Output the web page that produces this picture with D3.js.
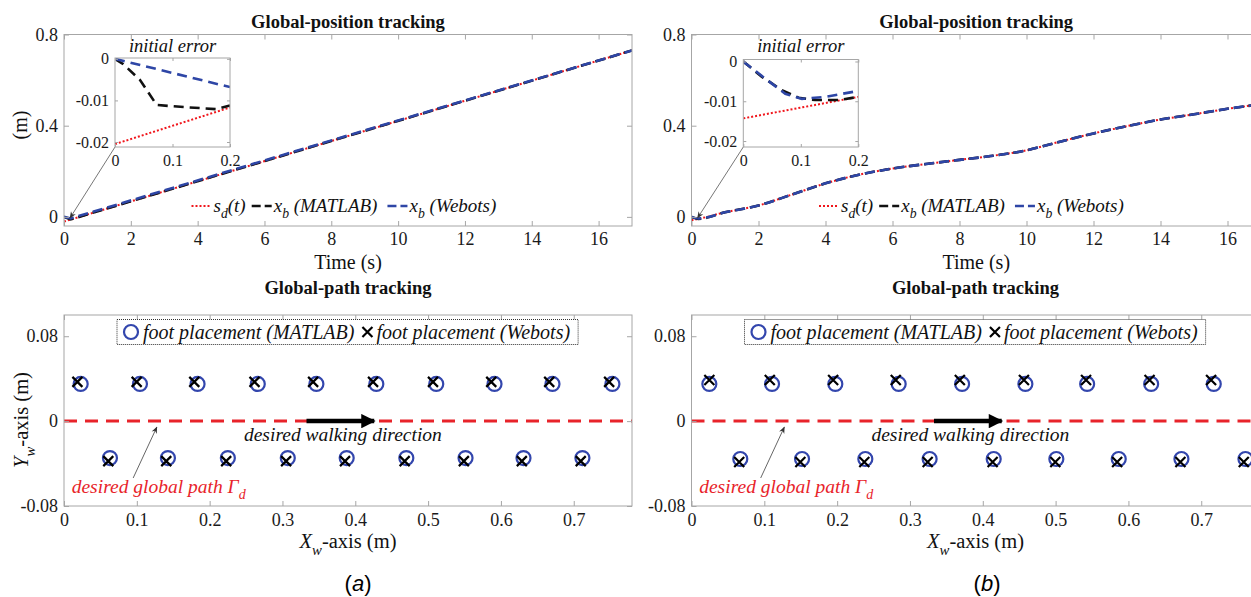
<!DOCTYPE html>
<html><head><meta charset="utf-8">
<script src="https://cdn.jsdelivr.net/npm/d3@7"></script>
<style>body{margin:0;background:#fff} svg{display:block}</style>
</head><body><svg id="c" width="1251" height="597"></svg>
<script>
// ---------------- DATA ----------------
// Top panels: global-position tracking (time s, position m)
const timeTicks = [0, 2, 4, 6, 8, 10, 12, 14, 16];
const posTicks = [0, 0.4, 0.8];
// (a)
const tA = [0, 0.2, 17];
const sdA = [-0.0205, -0.0117, 0.73];
const xbMatlabA = [0, -0.0112, 0.73];
const xbWebotsA = [0, -0.0068, 0.73];
// (b)
const tB = [0, 0.2, 1, 2, 3, 4, 5, 6, 7, 8, 9, 10, 11, 12, 13, 14, 15, 16, 17];
const sdB = [-0.0143, -0.0089, 0.02, 0.05, 0.098, 0.147, 0.185, 0.212, 0.232, 0.25, 0.268, 0.292, 0.33, 0.366, 0.398, 0.427, 0.45, 0.474, 0.494];
const xbMatlabB = [0, -0.0089, 0.02, 0.05, 0.098, 0.147, 0.185, 0.212, 0.232, 0.25, 0.268, 0.292, 0.33, 0.366, 0.398, 0.427, 0.45, 0.474, 0.494];
const xbWebotsB = [0, -0.0074, 0.02, 0.05, 0.098, 0.147, 0.185, 0.212, 0.232, 0.25, 0.268, 0.292, 0.33, 0.366, 0.398, 0.427, 0.45, 0.474, 0.494];

// Insets: initial error
const insetXTicks = [0, 0.1, 0.2];
const insetYTicks = [0, -0.01, -0.02];
const insetTsdA = [0, 0.2];
const insetSdA = [-0.0205, -0.0117];
const insetTblkA = [0, 0.0145, 0.043, 0.0725, 0.12, 0.177, 0.2];
const insetBlkA = [0, -0.0013, -0.005, -0.0111, -0.0116, -0.0121, -0.0112];
const insetTbluA = [0, 0.2];
const insetBluA = [0, -0.0068];

const insetTsdB = [0, 0.2];
const insetSdB = [-0.0143, -0.0089];
const insetTblkB = [0, 0.032, 0.067, 0.096, 0.125, 0.165, 0.2];
const insetBlkB = [0, -0.0038, -0.0072, -0.0091, -0.0097, -0.0097, -0.0089];
const insetTbluB = [0, 0.038, 0.073, 0.102, 0.142, 0.2];
const insetBluB = [0, -0.0043, -0.0081, -0.0094, -0.0089, -0.0074];

// Bottom panels: global-path tracking (Xw m, Yw m)
const xwTicks = [0, 0.1, 0.2, 0.3, 0.4, 0.5, 0.6, 0.7];
const ywTicks = [-0.08, 0, 0.08];
const pathX = [0, 0.78];
const pathY = [0, 0];
// (a)
const matlabUpperXA = [0.0229, 0.1043, 0.1834, 0.2661, 0.3466, 0.4289, 0.5112, 0.5912, 0.6708, 0.7531];
const matlabUpperYA = 0.035;
const matlabLowerXA = [0.0631, 0.1427, 0.2250, 0.3073, 0.3882, 0.4701, 0.5514, 0.6310, 0.7119];
const matlabLowerYA = -0.0348;
const webotsUpperXA = [0.0184, 0.0998, 0.1789, 0.2616, 0.3421, 0.4244, 0.5067, 0.5867, 0.6663, 0.7486];
const webotsUpperYA = 0.037;
const webotsLowerXA = [0.0608, 0.1404, 0.2227, 0.3050, 0.3859, 0.4678, 0.5491, 0.6287, 0.7096];
const webotsLowerYA = -0.0377;
// (b)
const matlabUpperXB = [0.0245, 0.1106, 0.1975, 0.2845, 0.3716, 0.4585, 0.5433, 0.6312, 0.7172];
const matlabUpperYB = 0.035;
const matlabLowerXB = [0.067, 0.1518, 0.2387, 0.327, 0.415, 0.501, 0.5867, 0.6728, 0.7607];
const matlabLowerYB = -0.0357;
const webotsUpperXB = [0.0245, 0.1075, 0.1945, 0.2805, 0.3685, 0.4565, 0.5418, 0.629, 0.7135];
const webotsUpperYB = 0.0387;
const webotsLowerXB = [0.0655, 0.1495, 0.2373, 0.3243, 0.4135, 0.4996, 0.5845, 0.6714, 0.7584];
const webotsLowerYB = -0.0386;

// ---------------- DRAWING ----------------
const SERIF = "'Liberation Serif','Times New Roman',serif";
const SANS = "'Liberation Sans',Arial,sans-serif";
const AXC = "#a6a6a6";
const RED = "#f0161c", BLUE = "#2e46a6", BLK = "#111";
const svg = d3.select("#c");

const defs = svg.append("defs");
defs.append("marker").attr("id","ah").attr("viewBox","0 0 10 10").attr("refX",9).attr("refY",5)
  .attr("markerWidth",7).attr("markerHeight",7).attr("orient","auto-start-reverse")
  .append("path").attr("d","M0,1 L10,5 L0,9 L3,5 z").attr("fill","#333");
defs.append("marker").attr("id","big").attr("viewBox","0 0 10 10").attr("refX",9).attr("refY",5)
  .attr("markerWidth",5).attr("markerHeight",3.2).attr("orient","auto").attr("markerUnits","strokeWidth")
  .append("path").attr("d","M0,0 L10,5 L0,10 z").attr("fill","#000");

function rich(g, x, y, parts, size, anchor, fill) {
  const t = g.append("text").attr("x", x).attr("y", y).attr("font-family", SERIF)
    .attr("font-size", size).attr("text-anchor", anchor || "start").attr("fill", fill || BLK);
  let shift = 0;
  parts.forEach(p => {
    const sp = t.append("tspan").text(p.t);
    if (p.it) sp.attr("font-style", "italic");
    if (p.b) sp.attr("font-weight", "bold");
    const target = p.sub ? size * 0.33 : 0;
    if (target !== shift) { sp.attr("dy", target - shift); shift = target; }
    if (p.sub) sp.attr("font-size", size * 0.72);
  });
  return t;
}

let clipN = 0;
function frame(g, x, y, xt, yt, o) {
  const [xl, xr] = x.range(), [yb, yt0] = y.range();
  const fmt = d => String(d);
  const style = (sel, lab) => {
    sel.select(".domain").remove();
    sel.selectAll(".tick line").attr("stroke", AXC).attr("stroke-width", 1);
    sel.attr("font-family", SERIF).attr("font-size", o.fs);
    sel.selectAll(".tick text").attr("fill", "#1a1a1a");
    if (!lab) sel.selectAll(".tick text").remove();
  };
  g.append("g").attr("transform", `translate(0,${yb})`)
    .call(d3.axisBottom(x).tickValues(xt).tickSizeInner(-o.ts).tickSizeOuter(0).tickPadding(o.px).tickFormat(fmt))
    .call(s => style(s, true));
  g.append("g").attr("transform", `translate(0,${yt0})`)
    .call(d3.axisTop(x).tickValues(xt).tickSizeInner(-o.ts).tickSizeOuter(0).tickFormat(""))
    .call(s => style(s, false));
  g.append("g").attr("transform", `translate(${xl},0)`)
    .call(d3.axisLeft(y).tickValues(yt).tickSizeInner(-o.ts).tickSizeOuter(0).tickPadding(o.py).tickFormat(fmt))
    .call(s => style(s, true));
  g.append("g").attr("transform", `translate(${xr},0)`)
    .call(d3.axisRight(y).tickValues(yt).tickSizeInner(-o.ts).tickSizeOuter(0).tickFormat(""))
    .call(s => style(s, false));
  g.append("rect").attr("x", xl).attr("y", yt0).attr("width", xr - xl).attr("height", yb - yt0)
    .attr("fill", "none").attr("stroke", AXC).attr("stroke-width", 1);
}
function clip(x, y) {
  const id = "cl" + (clipN++);
  const [xl, xr] = x.range(), [yb, yt0] = y.range();
  defs.append("clipPath").attr("id", id).append("rect")
    .attr("x", xl).attr("y", yt0).attr("width", xr - xl).attr("height", yb - yt0);
  return `url(#${id})`;
}
function series(g, x, y, xs, ys, color, width, dash, curve) {
  const line = d3.line().x((d, i) => x(xs[i])).y(d => y(d)).curve(curve || d3.curveLinear);
  g.append("path").datum(ys).attr("d", line).attr("fill", "none").attr("stroke", color)
    .attr("stroke-width", width).attr("stroke-dasharray", dash || null);
}

function topPanel(x0, x1, label, t, sd, xm, xw, inset, curve) {
  const g = svg.append("g");
  const x = d3.scaleLinear().domain([0, 17]).range([x0, x1]);
  const y = d3.scaleLinear().domain([-0.04, 0.8]).range([226, 34.5]);
  g.append("rect").attr("x", x0).attr("y", 34.5).attr("width", x1 - x0).attr("height", 191.5).attr("fill", "#fff");
  const lg = g.append("g").attr("clip-path", clip(x, y));
  series(lg, x, y, t, sd, RED, 2, "2,2", curve);
  series(lg, x, y, t, xm, BLK, 2.6, "10,5", curve);
  series(lg, x, y, t, xw, BLUE, 2.6, "10,5", curve);
  frame(g, x, y, timeTicks, posTicks, { ts: 5, px: 6, py: 6, fs: 18 });
  // title & axis label
  rich(g, (x0 + x1) / 2, 28, [{ t: "Global-position tracking", b: true }], 18.5, "middle");
  rich(g, (x0 + x1) / 2, 269, [{ t: "Time (s)" }], 20, "middle");
  if (label) {
    rich(g.append("g").attr("transform", "translate(27,125) rotate(-90)"), 0, 0, [{ t: "(m)" }], 20, "middle");
  }
  // legend
  let lx = x0 + 127.5;
  const ly = 206;
  const items = [
    { c: RED, w: 2, d: "2,2", parts: [{ t: "s", it: true }, { t: "d", it: true, sub: true }, { t: "(t)", it: true }], gap: 6 },
    { c: BLK, w: 2.6, d: "9,4", parts: [{ t: "x", it: true }, { t: "b", it: true, sub: true }, { t: " (MATLAB)", it: true }], gap: 10 },
    { c: BLUE, w: 2.6, d: "9,4", parts: [{ t: "x", it: true }, { t: "b", it: true, sub: true }, { t: " (Webots)", it: true }], gap: 0 }
  ];
  items.forEach(it => {
    g.append("line").attr("x1", lx).attr("x2", lx + 20).attr("y1", ly).attr("y2", ly)
      .attr("stroke", it.c).attr("stroke-width", it.w).attr("stroke-dasharray", it.d);
    const tx = rich(g, lx + 22, ly + 6, it.parts, 19, "start");
    lx = lx + 22 + tx.node().getComputedTextLength() + it.gap;
  });
  // inset
  const ix = d3.scaleLinear().domain([0, 0.2]).range([inset.x0, inset.x0 + 115]);
  const iy = d3.scaleLinear().domain(inset.yd).range([147, inset.top]);
  // pointer arrow
  g.append("line").attr("x1", ix(0)).attr("y1", 147).attr("x2", x(0.18)).attr("y2", y(-0.005))
    .attr("stroke", "#777").attr("stroke-width", 1).attr("marker-end", "url(#ah)");
  const ig = g.append("g");
  ig.append("rect").attr("x", inset.x0).attr("y", inset.top).attr("width", 115).attr("height", 147 - inset.top).attr("fill", "#fff");
  const ilg = ig.append("g").attr("clip-path", clip(ix, iy));
  series(ilg, ix, iy, inset.tsd, inset.sd, RED, 2, "2,2");
  series(ilg, ix, iy, inset.tblk, inset.blk, BLK, 2.6, "10,6");
  series(ilg, ix, iy, inset.tblu, inset.blu, BLUE, 2.6, "10,6");
  frame(ig, ix, iy, insetXTicks, insetYTicks, { ts: 3, px: 8, py: 6, fs: 16 });
  rich(ig, inset.x0 + 57.5, 52, [{ t: "initial error", it: true }], 18.5, "middle");
}

function bottomPanel(x0, x1, label, mux, muy, mlx, mly, wux, wuy, wlx, wly) {
  const g = svg.append("g");
  const x = d3.scaleLinear().domain([0, 0.78]).range([x0, x1]);
  const y = d3.scaleLinear().domain([-0.08, 0.1]).range([506, 315]);
  const lg = g.append("g").attr("clip-path", clip(x, y));
  series(lg, x, y, pathX, pathY, "#e8232a", 3, "13,8");
  // walking direction arrow
  lg.append("line").attr("x1", x(0.333)).attr("x2", x(0.426)).attr("y1", y(0)).attr("y2", y(0))
    .attr("stroke", "#000").attr("stroke-width", 4.5).attr("marker-end", "url(#big)");
  const circ = (xs, yv) => lg.selectAll(null).data(xs).enter().append("circle")
    .attr("cx", d => x(d)).attr("cy", y(yv)).attr("r", 7).attr("fill", "none")
    .attr("stroke", "#3346ad").attr("stroke-width", 2.2);
  const cross = (xs, yv) => lg.selectAll(null).data(xs).enter().append("path")
    .attr("d", d => { const cx = x(d), cy = y(yv), s = 5; return `M${cx - s},${cy - s}L${cx + s},${cy + s}M${cx - s},${cy + s}L${cx + s},${cy - s}`; })
    .attr("stroke", "#000").attr("stroke-width", 2.2).attr("fill", "none");
  circ(mux, muy); circ(mlx, mly);
  cross(wux, wuy); cross(wlx, wly);
  frame(g, x, y, xwTicks, ywTicks, { ts: 5, px: 7, py: 6, fs: 18 });
  rich(g, (x0 + x1) / 2, 294, [{ t: "Global-path tracking", b: true }], 18.5, "middle");
  rich(g, (x0 + x1) / 2, 548, [{ t: "X", it: true }, { t: "w", it: true, sub: true }, { t: "-axis (m)" }], 20.5, "middle");
  if (label) {
    rich(g.append("g").attr("transform", "translate(28,420) rotate(-90)"), 0, 0,
      [{ t: "Y", it: true }, { t: "w", it: true, sub: true }, { t: "-axis (m)" }], 20.5, "middle");
  }
  // legend box
  const bx = x0 + 53, by = 319.5;
  const lgd = g.append("g");
  const r = lgd.append("rect").attr("y", by).attr("height", 25).attr("fill", "#fff")
    .attr("stroke", "#333").attr("stroke-width", 1).attr("stroke-dasharray", "1,1");
  lgd.append("circle").attr("cx", bx + 14).attr("cy", by + 12.5).attr("r", 7).attr("fill", "none")
    .attr("stroke", "#3346ad").attr("stroke-width", 2.2);
  const t1 = rich(lgd, bx + 26, by + 19, [{ t: "foot placement (MATLAB)", it: true }], 20, "start");
  const cx2 = bx + 26 + t1.node().getComputedTextLength() + 13;
  lgd.append("path").attr("d", `M${cx2 - 5},${by + 7.5}L${cx2 + 5},${by + 17.5}M${cx2 - 5},${by + 17.5}L${cx2 + 5},${by + 7.5}`)
    .attr("stroke", "#000").attr("stroke-width", 2.2);
  const t2 = rich(lgd, cx2 + 9, by + 19, [{ t: "foot placement (Webots)", it: true }], 20, "start");
  const endx = cx2 + 9 + t2.node().getComputedTextLength() + 8;
  r.attr("x", bx).attr("width", endx - bx);
  // annotations
  rich(g, x(0.383), y(-0.0188), [{ t: "desired walking direction", it: true }], 19.5, "middle");
  g.append("line").attr("x1", x(0.095)).attr("y1", y(-0.0536)).attr("x2", x(0.1275)).attr("y2", y(-0.0056))
    .attr("stroke", "#666").attr("stroke-width", 1).attr("marker-end", "url(#ah)");
  rich(g, x(0.0106), y(-0.0678), [{ t: "desired global path ", it: true }, { t: "Γ", it: true }, { t: "d", it: true, sub: true }], 19.5, "start", "#e8232a");
}

topPanel(64, 632, true, tA, sdA, xbMatlabA, xbWebotsA,
  { x0: 115, top: 58, yd: [-0.0212, 0.0002], tsd: insetTsdA, sd: insetSdA, tblk: insetTblkA, blk: insetBlkA, tblu: insetTbluA, blu: insetBluA },
  d3.curveLinear);
topPanel(691.5, 1261, false, tB, sdB, xbMatlabB, xbWebotsB,
  { x0: 743.3, top: 59.5, yd: [-0.0215, 0.0005], tsd: insetTsdB, sd: insetSdB, tblk: insetTblkB, blk: insetBlkB, tblu: insetTbluB, blu: insetBluB },
  d3.curveMonotoneX);
bottomPanel(64, 632, true, matlabUpperXA, matlabUpperYA, matlabLowerXA, matlabLowerYA, webotsUpperXA, webotsUpperYA, webotsLowerXA, webotsLowerYA);
bottomPanel(691.5, 1259.5, false, matlabUpperXB, matlabUpperYB, matlabLowerXB, matlabLowerYB, webotsUpperXB, webotsUpperYB, webotsLowerXB, webotsLowerYB);

// sub-figure labels
svg.append("text").attr("x", 358).attr("y", 591).attr("text-anchor", "middle").attr("font-family", SANS).attr("font-size", 22)
  .call(t => { t.append("tspan").text("("); t.append("tspan").attr("font-style", "italic").text("a"); t.append("tspan").text(")"); });
svg.append("text").attr("x", 987).attr("y", 591).attr("text-anchor", "middle").attr("font-family", SANS).attr("font-size", 22)
  .call(t => { t.append("tspan").text("("); t.append("tspan").attr("font-style", "italic").text("b"); t.append("tspan").text(")"); });
</script></body></html>
